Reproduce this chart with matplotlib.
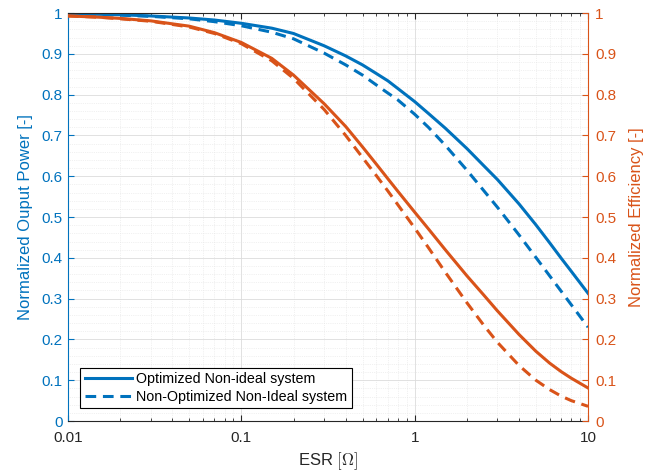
import numpy as np
import matplotlib
matplotlib.use('Agg')
import matplotlib.pyplot as plt
from matplotlib.ticker import FixedLocator, LogLocator, NullFormatter, MultipleLocator

plt.rcParams['font.family'] = ['Liberation Sans', 'DejaVu Sans']
plt.rcParams['mathtext.fontset'] = 'cm'

# ESR values [Ohm]
esr = [0.01, 0.015, 0.02, 0.03, 0.05, 0.07, 0.1, 0.15, 0.2, 0.3, 0.4, 0.5, 0.6, 0.7,
       0.8, 1, 1.2, 1.5, 2, 2.5, 3, 4, 5, 6, 7, 8, 10]

# normalized output power (left axis)
power_opt = [0.998, 0.997, 0.996, 0.993, 0.988, 0.983, 0.975, 0.963, 0.950, 0.920,
             0.895, 0.873, 0.852, 0.834, 0.815, 0.783, 0.754, 0.718, 0.668, 0.626,
             0.592, 0.532, 0.481, 0.437, 0.399, 0.367, 0.313]
power_nonopt = [0.998, 0.997, 0.995, 0.992, 0.986, 0.979, 0.969, 0.953, 0.937, 0.902,
                0.873, 0.848, 0.824, 0.804, 0.787, 0.752, 0.720, 0.676, 0.615, 0.565,
                0.524, 0.456, 0.401, 0.356, 0.318, 0.285, 0.230]

# normalized efficiency (right axis)
eff_opt = [0.993, 0.990, 0.987, 0.981, 0.968, 0.952, 0.928, 0.889, 0.848, 0.778,
           0.722, 0.672, 0.630, 0.594, 0.563, 0.512, 0.471, 0.420, 0.356, 0.309,
           0.270, 0.212, 0.171, 0.142, 0.121, 0.105, 0.081]
eff_nonopt = [0.993, 0.990, 0.986, 0.980, 0.966, 0.950, 0.925, 0.883, 0.840, 0.764,
              0.700, 0.646, 0.602, 0.564, 0.530, 0.473, 0.425, 0.365, 0.290, 0.235,
              0.193, 0.136, 0.100, 0.077, 0.061, 0.050, 0.036]

legend_labels = ['Optimized Non-ideal system', 'Non-Optimized Non-Ideal system']

blue = '#0072BD'
orange = '#D95319'
dark = '#262626'

fig = plt.figure(figsize=(6.66, 4.76), dpi=100)
ax1 = fig.add_axes([0.102, 0.1155, 0.781, 0.857])
ax2 = ax1.twinx()

dash = (3.5, 2.2)
l1, = ax1.plot(esr, power_opt, color=blue, lw=2.2)
l2, = ax1.plot(esr, power_nonopt, color=blue, lw=2.2, ls='--', dashes=dash)
ax2.plot(esr, eff_opt, color=orange, lw=2.2)
ax2.plot(esr, eff_nonopt, color=orange, lw=2.2, ls='--', dashes=dash)

ax1.set_xscale('log')
ax1.set_xlim(0.01, 10)
ax1.set_ylim(0, 1)
ax2.set_ylim(0, 1)

ax1.set_xticks([0.01, 0.1, 1, 10])
ax1.set_xticklabels(['0.01', '0.1', '1', '10'])
ax1.xaxis.set_minor_locator(LogLocator(base=10, subs=np.arange(2, 10)))
ax1.xaxis.set_minor_formatter(NullFormatter())

yt = np.round(np.arange(0, 1.01, 0.1), 1)
ylabels = ['0'] + ['%.1f' % v for v in yt[1:-1]] + ['1']
for ax in (ax1, ax2):
    ax.set_yticks(yt)
    ax.set_yticklabels(ylabels)
ax1.yaxis.set_minor_locator(MultipleLocator(0.02))
ax2.yaxis.set_minor_locator(FixedLocator([]))

# grid
ax1.grid(which='major', color='#dcdcdc', lw=0.6, ls='-')
ax1.grid(which='minor', color='#e4e4e4', lw=0.5, ls=':')
ax1.tick_params(axis='y', which='minor', length=0)

# tick styling
ax1.tick_params(axis='x', which='both', direction='in', top=True, colors=dark, labelsize=11, pad=7)
ax1.tick_params(axis='x', which='major', length=4)
ax1.tick_params(axis='x', which='minor', length=2.2)
ax1.tick_params(axis='y', which='major', direction='in', length=4, colors=blue, labelsize=11, pad=4)
ax2.tick_params(axis='y', which='major', direction='in', length=4, colors=orange, labelsize=11, pad=5)

for s in ('top', 'bottom'):
    ax1.spines[s].set_color(dark)
    ax2.spines[s].set_visible(False)
ax1.spines['left'].set_color(blue)
ax1.spines['right'].set_visible(False)
ax2.spines['left'].set_visible(False)
ax2.spines['right'].set_color(orange)

ax1.set_xlabel(r'ESR $[\Omega]$', fontsize=12, color=dark, labelpad=4)
ax1.set_ylabel('Normalized Ouput Power [-]', fontsize=12, color=blue, labelpad=6)
ax2.set_ylabel('Normalized Efficiency [-]', fontsize=12, color=orange, labelpad=9)

leg = ax2.legend([l1, l2], legend_labels, loc='lower left', bbox_to_anchor=(0.024, 0.032),
                 fontsize=10.3, frameon=True, fancybox=False, framealpha=1,
                 edgecolor='black', handlelength=3.3, borderpad=0.3,
                 labelspacing=0.25, handletextpad=0.3, borderaxespad=0)
leg.get_frame().set_linewidth(0.8)

fig.savefig('out.png', dpi=100)
